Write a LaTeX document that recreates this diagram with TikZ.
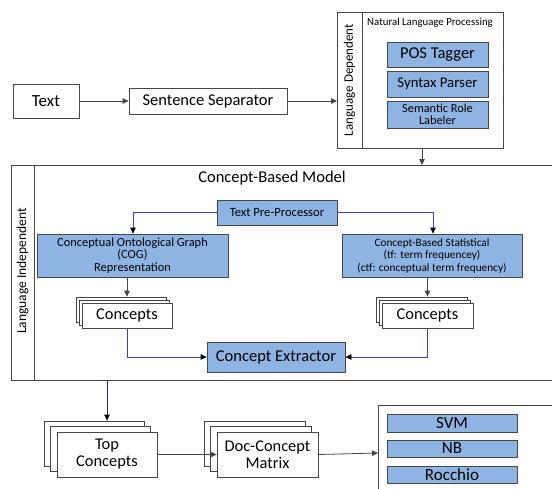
\documentclass[tikz,border=0pt]{standalone}
\usepackage{fontspec}
\setmainfont{Carlito}
\usetikzlibrary{arrows.meta,shadows}
\definecolor{boxblue}{RGB}{141,180,226}
\definecolor{edge}{RGB}{70,70,70}
\definecolor{linkblue}{RGB}{60,60,225}
\definecolor{navy}{RGB}{40,40,110}
\begin{document}
\begin{tikzpicture}[x=1pt,y=-1pt,
    >={Triangle[length=6pt,width=5.5pt]},
    plain/.style={draw=edge,line width=0.8pt,fill=white,inner sep=0pt,
      minimum width=#1},
    tinted/.style={draw=edge,line width=0.8pt,fill=boxblue,inner sep=0pt,
      align=center,minimum width=#1},
    pile/.style={plain=#1,double copy shadow={shadow xshift=-3pt,shadow yshift=3pt,
      draw=edge,fill=white}},
    bigpile/.style={plain=#1,align=center,double copy shadow={shadow xshift=-6.5pt,
      shadow yshift=5.5pt,draw=edge,fill=white}},
    wire/.style={line width=0.8pt,draw=edge,->},
    bluewire/.style={line width=0.8pt,draw=linkblue,-{Triangle[length=6pt,width=5.5pt,color=black]}},
    frame/.style={draw=edge,line width=0.8pt},
    fs/.style={font=\fontsize{#1}{#1}\selectfont}]
  \useasboundingbox (0,0) rectangle (552,488);
  \clip (0,0) rectangle (552,488);
  \fill[white] (0,0) rectangle (552,488);

  \node[plain=66,minimum height=34,fs=17] (text) at (46,101) {Text};
  \node[plain=158,minimum height=26,fs=16.5] (sep) at (208,101) {Sentence Separator};

  \draw[frame] (337,12) rectangle (503,148);
  \draw[frame] (362,12) -- (362,148);
  \coordinate (nlpin) at (337,101);
  \coordinate (nlpout) at (422,148);
  \node[rotate=90,fs=13] (dep) at (349.5,80) {Language Dependent};
  \node[fs=10.8] (nlp) at (430,23) {Natural Language Processing};
  \node[tinted=101,minimum height=25,fs=16.5] (pos) at (437.5,54.5) {POS Tagger};
  \node[tinted=101,minimum height=26,fs=14.8] (syn) at (437.5,84) {Syntax Parser};
  \node[tinted=101,minimum height=27,font=\fontsize{12.3}{11.5}\selectfont] (srl) at (437.5,114.5) {Semantic Role\\Labeler};

  \draw[frame] (11,165) rectangle (560,380);
  \draw[frame] (34,165) -- (34,380);
  \coordinate (cbmin) at (422,165);
  \coordinate (cbmout) at (107,380);
  \node[rotate=90,fs=13.5] (indep) at (22.5,271) {Language Independent};
  \node[fs=16.5] (cbm) at (272,178) {Concept-Based Model};
  \node[tinted=120,minimum height=25,fs=12.6] (tpp) at (277,212.5) {Text Pre-Processor};
  \node[tinted=191,minimum height=43,font=\fontsize{12.4}{12.5}\selectfont] (cog) at (132.5,255.5)
    {Conceptual Ontological Graph\\(COG)\\Representation};
  \node[tinted=180,minimum height=43,font=\fontsize{11.3}{12.5}\selectfont] (cbs) at (432,255.5)
    {Concept-Based Statistical\\(tf: term frequencey)\\(ctf: conceptual term frequency)};
  \node[pile=90,minimum height=25,fs=16.4] (conl) at (127,315.5) {Concepts};
  \node[pile=91,minimum height=25,fs=16.4] (conr) at (427.5,315.5) {Concepts};
  \node[tinted=138,minimum height=30,fs=16.5] (ce) at (276,357) {Concept Extractor};

  \node[bigpile=100,minimum height=45,font=\fontsize{16.4}{17}\selectfont] (topc) at (107,454.5) {Top\\Concepts};
  \node[bigpile=101,minimum height=45,font=\fontsize{16.4}{17}\selectfont] (dcm) at (267.5,454.5) {Doc-Concept\\Matrix};

  \draw[frame] (378,405) rectangle (560,495);
  \coordinate (clsin) at (378,453);
  \node[tinted=130,minimum height=18,fs=17] (svm) at (452,423) {SVM};
  \node[tinted=130,minimum height=17,fs=17] (nb) at (452,448.5) {NB};
  \node[tinted=130,minimum height=17,fs=17] (roc) at (452,474.5) {Rocchio};

  \draw[wire] (text) -- (sep);
  \draw[wire] (sep) -- (nlpin);
  \draw[wire] (nlpout) -- (cbmin);
  \draw[bluewire] (tpp.west) -| (cog.north -| 133,0);
  \draw[bluewire] (tpp.east) -| (cbs.north -| 433,0);
  \draw[wire] (conl.north |- cog.south) -- ([yshift=6pt]conl.north);
  \draw[wire] (conr.north |- cbs.south) -- ([yshift=6pt]conr.north);
  \draw[bluewire] (conl.south) |- (ce.west);
  \draw[bluewire] (conr.south) |- (ce.east);
  \draw[line width=0.8pt,draw=navy,-{Triangle[length=6pt,width=5.5pt,color=black]}]
    (cbmout) -- ([yshift=11pt]topc.north);
  \draw[wire] (topc.east) -- (dcm.west);
  \draw[wire] (dcm.east) -- (clsin);
\end{tikzpicture}
\end{document}
